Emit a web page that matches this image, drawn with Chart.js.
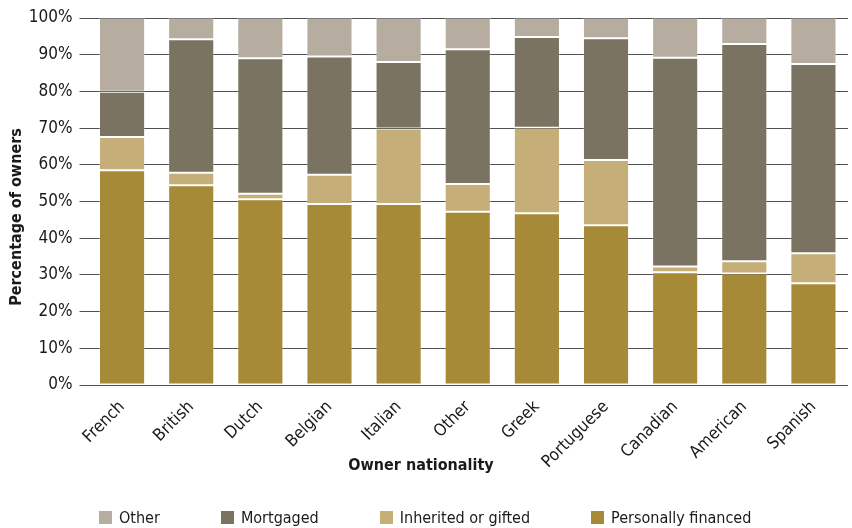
<!DOCTYPE html>
<html>
<head>
<meta charset="utf-8">
<script src="https://cdn.jsdelivr.net/npm/chart.js@4/dist/chart.umd.min.js"></script>
<style>
  html, body { margin: 0; padding: 0; background: #fff; }
  #wrap { width: 852px; height: 528px; position: relative; overflow: hidden; }
  #legend {
    position: absolute; left: 99px; top: 508px;
    display: flex; align-items: center;
    font-family: "DejaVu Sans Condensed", "Liberation Sans Narrow", "Liberation Sans", sans-serif;
    font-size: 16px; color: #1a1a1a; white-space: nowrap;
  }
  #legend .item { display: flex; align-items: center; margin-right: 61px; }
  #legend .swatch { width: 13px; height: 13px; margin-right: 7px; }
</style>
</head>
<body>
<div id="wrap">
  <canvas id="c" width="852" height="528"></canvas>
  <div id="legend"></div>
</div>
<script>
// Owner nationality categories
const nationalities = ['French', 'British', 'Dutch', 'Belgian', 'Italian', 'Other', 'Greek', 'Portuguese', 'Canadian', 'American', 'Spanish'];

// Share of owners (%) by how the property was acquired
const personallyFinanced = [58.5, 54.4, 50.6, 49.3, 49.3, 47.2, 46.8, 43.5, 30.7, 30.4, 27.7];
const inheritedOrGifted  = [9.1, 3.4, 1.5, 8.0, 20.6, 7.6, 23.3, 17.8, 1.6, 3.3, 8.2];
const mortgaged          = [12.3, 36.4, 36.9, 32.2, 18.1, 36.7, 24.7, 33.2, 56.9, 59.2, 51.6];
const otherMeans         = [20.1, 5.8, 11.0, 10.5, 12.0, 8.5, 5.2, 5.5, 10.8, 7.1, 12.5];

const yTicks = [0, 10, 20, 30, 40, 50, 60, 70, 80, 90, 100];

const FONT = '"DejaVu Sans Condensed", "Liberation Sans Narrow", "Liberation Sans", sans-serif';
Chart.defaults.font.family = FONT;
Chart.defaults.color = '#1a1a1a';

function ds(label, data, color) {
  return {
    label, data,
    backgroundColor: color,
    borderColor: 'rgba(255,255,255,0.25)',
    borderWidth: 1,
    borderSkipped: false,
    barPercentage: 0.667,
    categoryPercentage: 1.0
  };
}

// Axis titles, placed relative to the whole figure
const axisTitles = {
  id: 'axisTitles',
  afterDraw(c) {
    const ctx = c.ctx;
    ctx.save();
    ctx.fillStyle = '#1a1a1a';
    ctx.font = 'bold 16px ' + FONT;
    ctx.textAlign = 'center';
    ctx.textBaseline = 'middle';
    ctx.fillText('Owner nationality', 421, 466);
    ctx.translate(17, 217);
    ctx.rotate(-Math.PI / 2);
    ctx.fillText('Percentage of owners', 0, 0);
    ctx.restore();
  }
};

const chart = new Chart(document.getElementById('c'), {
  type: 'bar',
  data: {
    labels: nationalities,
    datasets: [
      ds('Personally financed', personallyFinanced, '#a68a37'),
      ds('Inherited or gifted', inheritedOrGifted, '#c5ae77'),
      ds('Mortgaged', mortgaged, '#7b7361'),
      ds('Other', otherMeans, '#b6ada0')
    ]
  },
  options: {
    responsive: false,
    animation: false,
    layout: { padding: { top: 18, right: 4, left: 0, bottom: 0 } },
    scales: {
      x: {
        stacked: true,
        grid: { display: false },
        border: { display: false },
        afterFit: (s) => { s.height = 143; },
        ticks: {
          font: { size: 17 },
          minRotation: 45, maxRotation: 45,
          padding: 4
        }
      },
      y: {
        stacked: true,
        min: 0, max: 100,
        afterBuildTicks: (axis) => { axis.ticks = yTicks.map(v => ({ value: v })); },
        afterFit: (s) => { s.width = 87.5; },
        grid: { color: '#505050', lineWidth: 1, tickLength: 8 },
        border: { display: false },
        ticks: {
          font: { size: 17 },
          padding: 7,
          callback: (v) => v + '%'
        }
      }
    },
    plugins: {
      legend: { display: false },
      tooltip: { enabled: false }
    }
  },
  plugins: [axisTitles]
});

// Legend, listed top segment first
const legendEl = document.getElementById('legend');
chart.data.datasets.slice().reverse().forEach((d) => {
  const item = document.createElement('div');
  item.className = 'item';
  const sw = document.createElement('span');
  sw.className = 'swatch';
  sw.style.background = d.backgroundColor;
  const tx = document.createElement('span');
  tx.textContent = d.label;
  item.appendChild(sw);
  item.appendChild(tx);
  legendEl.appendChild(item);
});
</script>
</body>
</html>
